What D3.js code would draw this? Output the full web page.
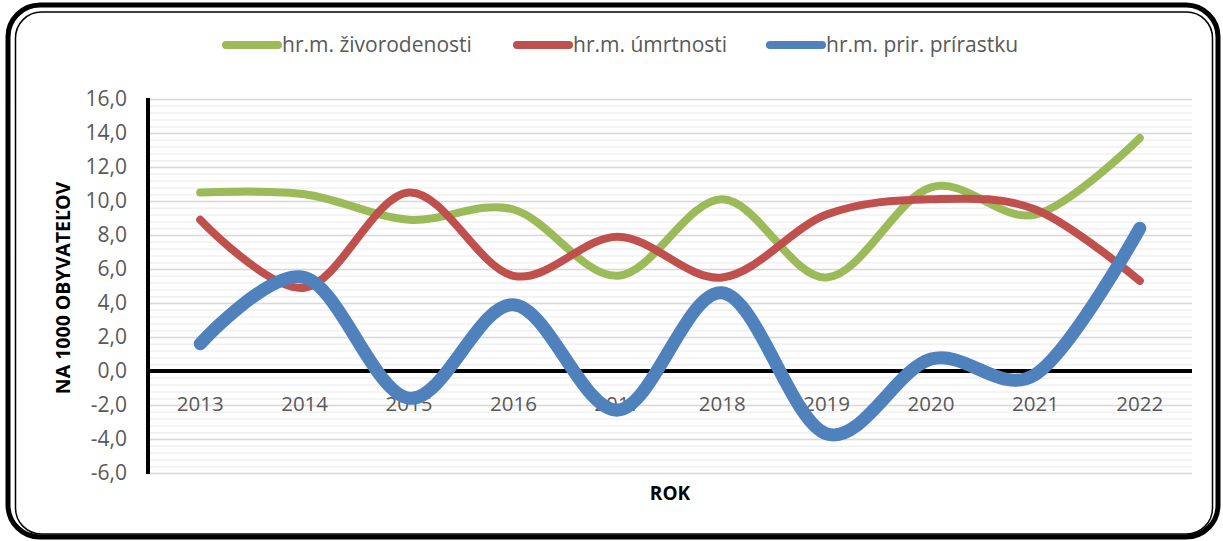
<!DOCTYPE html>
<html>
<head>
<meta charset="utf-8">
<script src="https://cdn.jsdelivr.net/npm/d3@7"></script>
<style>
  body { margin: 0; background: #fff; }
  text { font-family: "Open Sans", sans-serif; }
</style>
</head>
<body>
<script>
// data (per 1000 inhabitants)
const years = ["2013", "2014", "2015", "2016", "2017", "2018", "2019", "2020", "2021", "2022"];
const births = [10.5, 10.4, 8.9, 9.5, 5.6, 10.1, 5.5, 10.8, 9.2, 13.7];
const deaths = [8.9, 4.9, 10.5, 5.6, 7.9, 5.5, 9.2, 10.1, 9.5, 5.3];
const natural = [1.6, 5.5, -1.6, 3.9, -2.3, 4.6, -3.7, 0.7, -0.2, 8.4];
const seriesNames = ["hr.m. živorodenosti", "hr.m. úmrtnosti", "hr.m. prir. prírastku"];
const yTicks = [-6, -4, -2, 0, 2, 4, 6, 8, 10, 12, 14, 16];

const width = 1223, height = 541;
const colors = ["#9BBB59", "#C0504D", "#4F81BD"];
const widths = [8, 8, 13];

const svg = d3.select("body").append("svg")
  .attr("width", width)
  .attr("height", height);

// frame: thick outer line + thin inner line
svg.append("rect")
  .attr("x", 8).attr("y", 5).attr("width", 1210).attr("height", 532)
  .attr("rx", 32).attr("fill", "#fff")
  .attr("stroke", "#000").attr("stroke-width", 5);
svg.append("rect")
  .attr("x", 15.5).attr("y", 12).attr("width", 1197).attr("height", 522)
  .attr("rx", 26).attr("fill", "none")
  .attr("stroke", "#000").attr("stroke-width", 1.5);

const pLeft = 148, pRight = 1192, pTop = 99, pBottom = 473;

const x = d3.scaleBand().domain(years).range([pLeft, pRight]);
const y = d3.scaleLinear().domain([-6, 16]).range([pBottom, pTop]);
const cx = d => x(d) + x.bandwidth() / 2;
const fmt = d => d.toFixed(1).replace(".", ",");

// minor gridlines
const minor = d3.range(-6, 16.001, 0.4).map(v => +v.toFixed(1));
svg.append("g")
  .attr("transform", `translate(${pLeft},0)`)
  .call(d3.axisLeft(y).tickValues(minor).tickSize(-(pRight - pLeft)).tickFormat(""))
  .call(g => g.select(".domain").remove())
  .call(g => g.selectAll("line").attr("stroke", "#f0f0f0").attr("stroke-width", 1.5));

// major gridlines
svg.append("g")
  .attr("transform", `translate(${pLeft},0)`)
  .call(d3.axisLeft(y).tickValues(yTicks).tickSize(-(pRight - pLeft)).tickFormat(""))
  .call(g => g.select(".domain").remove())
  .call(g => g.selectAll("line").attr("stroke", "#d9d9d9").attr("stroke-width", 1.5));

// y tick labels
svg.append("g")
  .attr("transform", `translate(${pLeft - 21},0)`)
  .call(d3.axisLeft(y).tickValues(yTicks).tickSize(0).tickFormat(fmt))
  .call(g => g.select(".domain").remove())
  .call(g => g.selectAll("text").attr("fill", "#595959").attr("font-size", 21).attr("x", 0));

// x labels under the zero line
svg.append("g")
  .attr("transform", `translate(0,${y(0) + 22})`)
  .call(d3.axisBottom(x).tickSize(0))
  .call(g => g.select(".domain").remove())
  .call(g => g.selectAll("text").attr("fill", "#595959").attr("font-size", 20.5));

// axis lines
svg.append("line")
  .attr("x1", pLeft).attr("x2", pLeft).attr("y1", pTop - 1).attr("y2", pBottom + 1)
  .attr("stroke", "#000").attr("stroke-width", 4);
svg.append("line")
  .attr("x1", pLeft).attr("x2", pRight).attr("y1", y(0)).attr("y2", y(0))
  .attr("stroke", "#000").attr("stroke-width", 4);

// series
const line = d3.line()
  .x((d, i) => cx(years[i]))
  .y(d => y(d))
  .curve(d3.curveCardinal.tension(0));

[births, deaths, natural].forEach((s, k) => {
  svg.append("path")
    .attr("d", line(s))
    .attr("fill", "none")
    .attr("stroke", colors[k])
    .attr("stroke-width", widths[k])
    .attr("stroke-linecap", "round")
    .attr("stroke-linejoin", "round");
});

// legend
const legendX = [226, 517, 770];
const lg = svg.append("g");
seriesNames.forEach((n, k) => {
  lg.append("line")
    .attr("x1", legendX[k]).attr("x2", legendX[k] + 52)
    .attr("y1", 45).attr("y2", 45)
    .attr("stroke", colors[k]).attr("stroke-width", 8).attr("stroke-linecap", "round");
  lg.append("text")
    .attr("x", legendX[k] + 56).attr("y", 45).attr("dy", "0.35em")
    .attr("fill", "#595959").attr("font-size", 21)
    .text(n);
});

// axis titles
svg.append("text")
  .attr("transform", `translate(70,${(pTop + pBottom) / 2 + 2}) rotate(-90)`)
  .attr("text-anchor", "middle")
  .attr("font-size", 19.5).attr("font-weight", "bold").attr("fill", "#000")
  .text("NA 1000 OBYVATEĽOV");
svg.append("text")
  .attr("x", 670).attr("y", 500)
  .attr("text-anchor", "middle")
  .attr("font-size", 19).attr("font-weight", "bold").attr("fill", "#000")
  .text("ROK");
</script>
</body>
</html>
